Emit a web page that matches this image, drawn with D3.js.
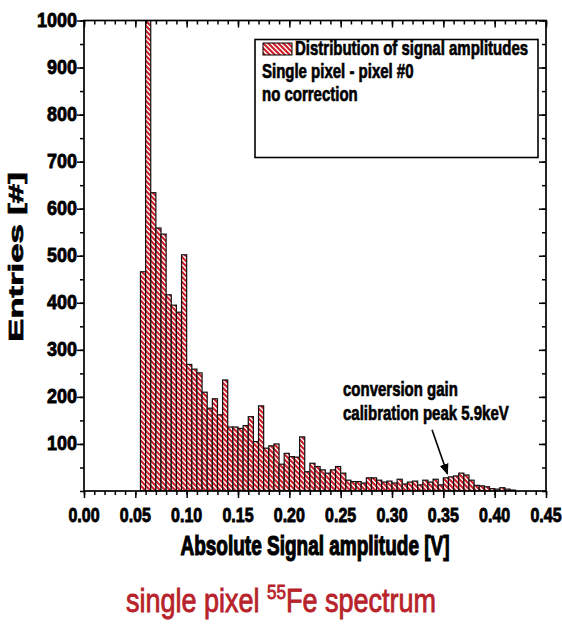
<!DOCTYPE html>
<html><head><meta charset="utf-8">
<script src="https://cdn.jsdelivr.net/npm/d3@7"></script>
<style>body{margin:0;background:#fff}</style>
</head><body><svg id="c" width="562" height="626"></svg>
<script>
// Histogram bins (left edges, V) and entries
const binLeft = [0.055,0.060,0.065,0.070,0.075,0.080,0.085,0.090,0.095,0.100,
  0.105,0.110,0.115,0.120,0.125,0.130,0.135,0.140,0.145,0.150,
  0.155,0.160,0.165,0.170,0.175,0.180,0.185,0.190,0.195,0.200,
  0.205,0.210,0.215,0.220,0.225,0.230,0.235,0.240,0.245,0.250,
  0.255,0.260,0.265,0.270,0.275,0.280,0.285,0.290,0.295,0.300,
  0.305,0.310,0.315,0.320,0.325,0.330,0.335,0.340,0.345,0.350,
  0.355,0.360,0.365,0.370,0.375,0.380,0.385,0.390,0.395,0.400,
  0.405,0.410,0.415];
const binWidth = 0.005;
const counts = [466,1000,634,559,546,417,395,380,502,269,
  259,251,210,176,196,162,236,136,136,133,
  139,158,105,181,91,96,100,57,80,73,
  72,115,41,59,52,45,38,45,52,38,
  23,20,20,17,28,28,23,19,21,17,
  25,15,19,21,13,23,19,25,13,28,
  30,32,38,34,23,12,11,9,5,4,
  7,4,2];
const xTicks = [0,0.05,0.10,0.15,0.20,0.25,0.30,0.35,0.40,0.45];
const xTickLabels = ["0.00","0.05","0.10","0.15","0.20","0.25","0.30","0.35","0.40","0.45"];
const yTicks = [100,200,300,400,500,600,700,800,900,1000];
const yTickLabels = ["100","200","300","400","500","600","700","800","900","1000"];
const legendLines = ["Distribution of signal amplitudes","Single pixel - pixel #0","no correction"];
const annotationLines = ["conversion gain","calibration peak 5.9keV"];
const arrowFrom = [0.339, 130];   // data coords of arrow tail
const arrowTo = [0.354, 36];      // data coords of arrow head

const svg = d3.select("#c");
const m = {left:84, right:546, top:20.5, bottom:491};
const x = d3.scaleLinear().domain([0,0.45]).range([m.left,m.right]);
const y = d3.scaleLinear().domain([0,1000]).range([m.bottom,m.top]);
const red = "#cf1f2a";
const font = "Liberation Sans, Arial, Helvetica, sans-serif";

const defs = svg.append("defs");
const pat = defs.append("pattern").attr("id","hatch").attr("patternUnits","userSpaceOnUse")
  .attr("width",5).attr("height",5);
pat.append("rect").attr("width",5).attr("height",5).attr("fill","#fff");
pat.append("path").attr("d","M0,0 L5,5 M-1,4 L1,6 M4,-1 L6,1")
  .attr("stroke",red).attr("stroke-width",2.2);
defs.append("marker").attr("id","arr").attr("viewBox","0 0 10 10").attr("refX",9).attr("refY",5)
  .attr("markerWidth",7).attr("markerHeight",7).attr("orient","auto")
  .append("path").attr("d","M0,1 L10,5 L0,9 Z").attr("fill","#000");

const clip = defs.append("clipPath").attr("id","pc");
clip.append("rect").attr("x",m.left).attr("y",m.top).attr("width",m.right-m.left).attr("height",m.bottom-m.top);

// bars
svg.append("g").attr("clip-path","url(#pc)").selectAll("rect").data(binLeft).join("rect")
  .attr("x",d=>x(d)).attr("width",d=>x(d+binWidth)-x(d))
  .attr("y",(d,i)=>y(counts[i])).attr("height",(d,i)=>y(0)-y(counts[i]))
  .attr("fill","url(#hatch)").attr("stroke","#111").attr("stroke-width",1.2);

// axes
const xMinor = d3.range(0,0.4501,0.01);
const yMinor = d3.range(0,1000.1,50);
const gb = svg.append("g").attr("transform",`translate(0,${m.bottom})`)
  .call(d3.axisBottom(x).tickValues(xMinor).tickSize(4).tickFormat(""));
const gb2 = svg.append("g").attr("transform",`translate(0,${m.bottom})`)
  .call(d3.axisBottom(x).tickValues(xTicks).tickSize(7).tickFormat(""));
const gt = svg.append("g").attr("transform",`translate(0,${m.top})`)
  .call(d3.axisBottom(x).tickValues(xMinor).tickSize(4).tickFormat(""));
const gt2 = svg.append("g").attr("transform",`translate(0,${m.top})`)
  .call(d3.axisBottom(x).tickValues(xTicks).tickSize(7).tickFormat(""));
const gl = svg.append("g").attr("transform",`translate(${m.left},0)`)
  .call(d3.axisLeft(y).tickValues(yMinor).tickSize(4).tickFormat(""));
const gl2 = svg.append("g").attr("transform",`translate(${m.left},0)`)
  .call(d3.axisLeft(y).tickValues(yTicks).tickSize(7).tickFormat(""));
const gr = svg.append("g").attr("transform",`translate(${m.right},0)`)
  .call(d3.axisLeft(y).tickValues(yMinor).tickSize(4).tickFormat(""));
const gr2 = svg.append("g").attr("transform",`translate(${m.right},0)`)
  .call(d3.axisLeft(y).tickValues(yTicks).tickSize(7).tickFormat(""));
[gb,gb2,gt,gt2,gl,gl2,gr,gr2].forEach(g=>{
  g.select(".domain").remove();
  g.selectAll("line").attr("stroke","#000").attr("stroke-width",1.5);
});
svg.append("rect").attr("x",m.left).attr("y",m.top).attr("width",m.right-m.left).attr("height",m.bottom-m.top)
  .attr("fill","none").attr("stroke","#000").attr("stroke-width",1.7);

function txt(px,py,s,opt){
  const o = Object.assign({size:15,anchor:"start",sy:1.3,weight:"bold",fill:"#000",sw:0.5},opt||{});
  return svg.append("text").attr("transform",`translate(${px},${py}) scale(1,${o.sy})`)
    .attr("text-anchor",o.anchor).attr("font-family",font).attr("font-weight",o.weight)
    .attr("font-size",o.size).attr("fill",o.fill)
    .attr("stroke",o.fill).attr("stroke-width",o.sw).text(s);
}
// tick labels
xTicks.forEach((t,i)=>txt(x(t),522,xTickLabels[i],{size:16,anchor:"middle",sy:1.3,sw:0.7}));
yTicks.forEach((t,i)=>txt(m.left-7,y(t)+6.5,yTickLabels[i],{size:18,anchor:"end",sy:1.12,sw:0.7}));

// axis titles
txt((m.left+m.right)/2,555,"Absolute Signal amplitude [V]",{size:19,anchor:"middle",sy:1.45,sw:0.8});
svg.append("text").attr("transform",`translate(23,257) rotate(-90) scale(1.65,1)`)
  .attr("text-anchor","middle").attr("font-family",font).attr("font-weight","bold")
  .attr("font-size",21).attr("stroke","#000").attr("stroke-width",0.7).text("Entries [#]");

// legend
svg.append("rect").attr("x",255).attr("y",39.5).attr("width",283).attr("height",118)
  .attr("fill","#fff").attr("stroke","#000").attr("stroke-width",1.6);
svg.append("rect").attr("x",263).attr("y",43).attr("width",29).attr("height",12)
  .attr("fill","url(#hatch)").attr("stroke","#000").attr("stroke-width",1);
txt(295,55,legendLines[0],{size:15});
txt(262,78,legendLines[1],{size:15});
txt(262,101,legendLines[2],{size:15});

// annotation
txt(343,396,annotationLines[0],{size:15});
txt(343,420,annotationLines[1],{size:15});
svg.append("line").attr("x1",x(arrowFrom[0])).attr("y1",y(arrowFrom[1]))
  .attr("x2",x(arrowTo[0])).attr("y2",y(arrowTo[1]))
  .attr("stroke","#000").attr("stroke-width",1.6).attr("marker-end","url(#arr)");

// bottom title
const bt = svg.append("text").attr("transform","translate(281,612) scale(1,1.2)")
  .attr("text-anchor","middle").attr("font-family",font).attr("font-size",27)
  .attr("fill","#b8222a").attr("stroke","#b8222a").attr("stroke-width",0.7);
bt.append("tspan").text("single pixel ");
bt.append("tspan").attr("font-size",17).attr("dy",-11).text("55");
bt.append("tspan").attr("dy",11).text("Fe spectrum");
</script></body></html>
